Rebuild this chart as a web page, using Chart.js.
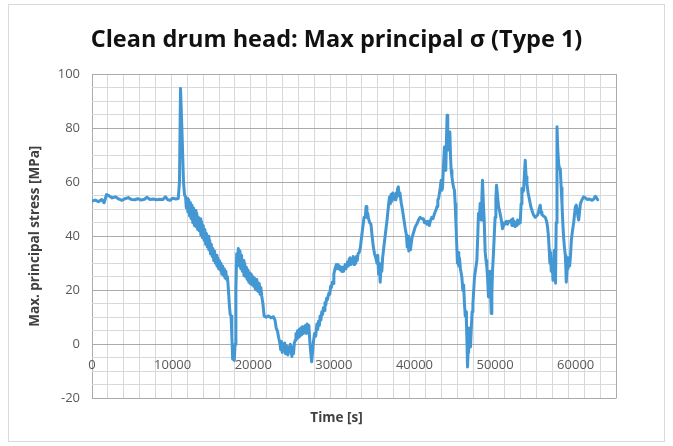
<!DOCTYPE html>
<html>
<head>
<meta charset="utf-8">
<script src="https://cdn.jsdelivr.net/npm/chart.js@4/dist/chart.umd.min.js"></script>
<style>
  html, body { margin: 0; padding: 0; background: #fff; }
  canvas { display: block; }
</style>
</head>
<body>
<canvas id="stress-chart" width="673" height="446"></canvas>
<script>
// time [s] and max principal stress [MPa]
const timeS = [
  0, 400, 800, 1200, 1500, 1800, 2100, 2500, 2900, 3300,
  3700, 4100, 4500, 4900, 5300, 5700, 6100, 6500, 6800, 7200,
  7600, 8000, 8400, 8800, 9100, 9400, 9700, 10000, 10400, 10700,
  10850, 10980, 11150, 11350, 11480, 11600, 11700, 11800, 11900, 12000,
  12100, 12200, 12300, 12400, 12500, 12600, 12700, 12800, 12900, 13000,
  13100, 13200, 13300, 13400, 13500, 13600, 13700, 13800, 13900, 14000,
  14100, 14200, 14300, 14400, 14500, 14600, 14700, 14800, 14900, 15000,
  15100, 15200, 15300, 15400, 15500, 15600, 15700, 15800, 15900, 16000,
  16100, 16200, 16300, 16400, 16500, 16600, 16700, 16800, 16900, 17050,
  17150, 17250, 17350, 17450, 17550, 17650, 17750, 17850, 17950, 18050,
  18150, 18250, 18350, 18450, 18550, 18650, 18750, 18850, 18950, 19050,
  19150, 19250, 19350, 19450, 19550, 19650, 19750, 19850, 19950, 20050,
  20150, 20250, 20350, 20450, 20550, 20650, 20750, 20850, 20950, 21050,
  21200, 21350, 21600, 21900, 22200, 22500, 22700, 22850, 23000, 23150,
  23300, 23400, 23500, 23600, 23700, 23800, 23900, 24000, 24100, 24200,
  24300, 24400, 24500, 24600, 24700, 24800, 24900, 25000, 25100, 25200,
  25300, 25400, 25500, 25600, 25700, 25800, 25900, 26000, 26100, 26200,
  26300, 26400, 26500, 26600, 26700, 26800, 26900, 27000, 27100, 27250,
  27350, 27450, 27600, 27750, 27900, 28000, 28100, 28200, 28300, 28400,
  28500, 28600, 28700, 28800, 28900, 29000, 29100, 29200, 29300, 29400,
  29500, 29600, 29700, 29800, 29900, 30000, 30150, 30300, 30400, 30500,
  30600, 30700, 30800, 30900, 31000, 31100, 31200, 31300, 31400, 31500,
  31600, 31700, 31800, 31900, 32000, 32100, 32200, 32300, 32400, 32500,
  32600, 32700, 32800, 32900, 33000, 33150, 33300, 33450, 33600, 33750,
  33900, 34000, 34100, 34200, 34300, 34450, 34600, 34750, 34900, 35050,
  35200, 35350, 35450, 35550, 35650, 35750, 35850, 35950, 36050, 36200,
  36400, 36600, 36800, 36900, 37000, 37100, 37200, 37300, 37400, 37500,
  37600, 37700, 37800, 37900, 38000, 38100, 38200, 38350, 38500, 38700,
  38850, 39000, 39100, 39200, 39300, 39400, 39500, 39700, 39900, 40100,
  40300, 40500, 40700, 40900, 41100, 41250, 41400, 41550, 41700, 41850,
  42000, 42150, 42300, 42500, 42700, 42800, 42900, 43000, 43100, 43200,
  43310, 43400, 43480, 43600, 43720, 43800, 43890, 43970, 44050, 44130,
  44220, 44300, 44390, 44470, 44550, 44650, 44760, 44860, 44960, 45050,
  45130, 45230, 45330, 45430, 45500, 45580, 45700, 45880, 46000, 46100,
  46200, 46300, 46400, 46450, 46520, 46580, 46650, 46720, 46790, 46870,
  46950, 47050, 47150, 47250, 47350, 47450, 47600, 47740, 47850, 47940,
  48050, 48150, 48280, 48360, 48440, 48550, 48650, 48770, 48880, 48980,
  49080, 49180, 49270, 49350, 49440, 49520, 49600, 49680, 49790, 49890,
  50000, 50100, 50180, 50300, 50430, 50580, 50720, 50820, 50920, 51050,
  51150, 51260, 51400, 51550, 51700, 51880, 52000, 52100, 52200, 52290,
  52400, 52500, 52600, 52700, 52800, 52900, 53000, 53120, 53230, 53330,
  53440, 53540, 53640, 53740, 53850, 53950, 54100, 54280, 54430, 54570,
  54750, 54980, 55150, 55300, 55390, 55500, 55600, 55700, 55810, 56000,
  56230, 56400, 56510, 56620, 56720, 56800, 56880, 56970, 57080, 57180,
  57260, 57350, 57420, 57500, 57580, 57680, 57780, 57880, 57990, 58090,
  58200, 58300, 58400, 58500, 58600, 58710, 58780, 58830, 58940, 59040,
  59150, 59250, 59360, 59460, 59600, 59750, 59850, 59960, 60070, 60170,
  60270, 60370, 60480, 60580, 60780, 60990, 61200, 61410, 61700, 62030,
  62250, 62440, 62600, 62730
];
const stressMPa = [
  53.0, 53.4, 52.8, 53.6, 52.4, 55.4, 55.0, 54.2, 54.6, 53.8,
  53.3, 53.9, 54.3, 53.6, 53.5, 53.9, 53.4, 53.7, 54.4, 53.6,
  53.8, 53.5, 53.7, 53.6, 54.6, 53.5, 53.3, 54.1, 53.8, 54.0,
  60.0, 94.7, 80.0, 60.0, 55.2, 54.8, 50.5, 54.0, 49.0, 53.5,
  47.5, 52.5, 46.5, 51.5, 45.0, 50.5, 44.0, 49.5, 43.5, 48.5,
  42.5, 47.0, 42.0, 46.5, 40.5, 45.5, 39.5, 44.0, 38.5, 42.5,
  37.0, 41.0, 36.0, 40.0, 35.0, 38.5, 33.5, 37.0, 32.5, 35.5,
  31.0, 34.5, 30.0, 33.0, 29.0, 32.0, 28.0, 31.0, 27.5, 30.0,
  26.0, 29.0, 25.5, 28.0, 24.5, 27.0, 24.0, 25.0, 21.2, 14.0,
  11.0, 10.5, 3.0, -5.5, -2.0, -6.0, 0.0, 20.0, 33.5, 31.0,
  35.5, 29.0, 34.5, 28.0, 33.0, 27.0, 31.0, 25.5, 30.0, 25.0,
  28.5, 24.0, 27.5, 23.0, 26.5, 22.5, 26.0, 22.0, 25.0, 21.5,
  24.5, 20.5, 24.0, 20.0, 23.0, 19.5, 22.5, 18.5, 21.0, 18.0,
  15.0, 10.5, 10.0, 10.5, 9.8, 10.2, 9.0, 6.0, 5.0, 2.5,
  0.5, -2.0, 1.0, -3.0, 0.0, -2.5, 0.5, -3.5, -0.5, -2.0,
  -4.0, -1.0, -3.0, 0.0, -2.5, -4.5, -1.0, -3.5, 0.5, 1.5,
  4.0, 2.0, 5.0, 2.5, 5.5, 3.0, 6.0, 3.5, 6.5, 4.0,
  6.5, 4.5, 7.0, 4.0, 7.5, 5.0, 7.0, 2.0, -2.0, -6.5,
  -3.0, 0.5, 4.0, 3.0, 7.5, 5.5, 8.5, 7.0, 10.5, 9.0,
  12.0, 11.0, 13.5, 12.5, 15.5, 14.5, 17.0, 16.5, 18.0, 19.0,
  18.5, 21.5, 21.0, 23.0, 22.5, 26.0, 28.0, 29.5, 28.0, 29.5,
  28.0, 29.0, 27.5, 28.5, 27.0, 28.5, 27.0, 28.0, 29.5, 28.0,
  29.0, 30.5, 29.0, 31.5, 32.0, 29.5, 31.5, 30.0, 32.5, 29.5,
  31.0, 30.0, 32.5, 31.0, 33.5, 34.0, 36.0, 40.0, 43.5, 47.0,
  47.0, 51.0, 47.0, 48.5, 46.5, 45.0, 44.5, 40.0, 36.0, 33.5,
  32.0, 30.0, 33.0, 26.0, 30.0, 23.0, 29.0, 27.0, 32.0, 36.0,
  41.0, 46.0, 52.0, 54.5, 52.0, 55.5, 53.0, 56.0, 54.0, 55.0,
  53.5, 56.0, 54.5, 57.5, 58.3, 55.0, 56.0, 52.5, 50.0, 46.0,
  43.0, 40.5, 36.0, 40.0, 34.5, 37.0, 35.0, 39.5, 41.5, 43.5,
  44.5, 46.0, 47.0, 46.5, 46.5, 45.0, 45.5, 44.5, 45.5, 44.0,
  46.0, 47.0, 46.5, 48.5, 50.0, 51.0, 53.5, 54.0, 56.0, 58.0,
  60.7, 57.0, 58.0, 66.0, 73.0, 67.0, 64.4, 76.0, 84.8, 78.0,
  71.9, 76.0, 78.6, 70.0, 64.4, 62.0, 59.5, 58.0, 57.0, 52.0,
  45.9, 38.0, 30.0, 34.0, 29.0, 32.0, 28.0, 24.9, 20.0, 22.0,
  15.1, 10.5, 12.0, 8.0, 0.0, -8.4, -3.0, 6.0, 5.2, 1.0,
  -1.0, 6.0, 12.0, 15.0, 20.0, 24.9, 28.0, 31.1, 40.0, 48.4,
  47.0, 52.1, 46.0, 54.0, 60.7, 52.0, 46.0, 34.2, 31.0, 28.6,
  24.0, 17.5, 22.0, 27.0, 20.0, 11.4, 18.0, 27.0, 33.0, 39.7,
  47.0, 54.0, 58.9, 55.0, 51.0, 49.0, 47.0, 45.0, 42.8, 44.0,
  45.0, 44.5, 45.5, 44.5, 45.5, 45.3, 46.0, 44.0, 46.5, 44.0,
  45.5, 43.5, 45.0, 44.0, 46.0, 44.5, 45.5, 45.0, 52.0, 57.7,
  56.5, 57.0, 63.0, 68.1, 62.0, 59.5, 56.0, 53.3, 51.0, 49.6,
  48.0, 47.0, 47.5, 48.0, 49.0, 50.5, 51.5, 49.0, 48.0, 47.5,
  47.0, 45.5, 43.4, 40.0, 34.8, 30.0, 34.0, 27.0, 31.0, 23.7,
  30.0, 34.8, 28.0, 22.6, 45.0, 80.5, 72.0, 66.9, 65.0, 65.0,
  58.0, 52.0, 45.0, 39.7, 36.0, 33.0, 28.0, 23.0, 28.0, 32.0,
  31.0, 29.0, 33.0, 38.5, 42.0, 45.0, 48.0, 50.9, 51.5, 50.0,
  47.5, 46.0, 49.0, 52.0, 53.5, 54.6, 54.2, 53.6, 53.8, 53.3,
  53.8, 54.8, 54.2, 53.5
];

const xLabels = [0, 10000, 20000, 30000, 40000, 50000, 60000];
const yLabels = [-20, 0, 20, 40, 60, 80, 100];

const majorGrid = '#a9abae';
const minorGrid = '#d6d8db';
const tickFont = { family: 'Open Sans', size: 13 };

// white background + light outer frame like the Excel chart area
const chartFrame = {
    id: 'chartFrame',
    beforeDraw(chart) {
        const c = chart.ctx;
        c.save();
        c.fillStyle = '#fff';
        c.fillRect(0, 0, chart.width, chart.height);
        c.strokeStyle = '#d9d9d9';
        c.lineWidth = 1;
        c.strokeRect(8.5, 4.5, 656, 437);
        c.restore();
    }
};

// Excel puts the time labels just under the y = 0 line, inside the plot
const xAxisLabels = {
    id: 'xAxisLabels',
    beforeDatasetsDraw(chart) {
        const c = chart.ctx;
        const { x, y } = chart.scales;
        const base = y.getPixelForValue(0) + 24.5;
        c.save();
        c.font = '13px "Open Sans"';
        c.fillStyle = '#595959';
        c.textAlign = 'center';
        c.textBaseline = 'alphabetic';
        xLabels.forEach((v) => c.fillText(String(v), x.getPixelForValue(v), base));
        c.restore();
    }
};

const ctx = document.getElementById('stress-chart');

new Chart(ctx, {
    type: 'line',
    data: {
        datasets: [{
            data: timeS.map((t, i) => ({ x: t, y: stressMPa[i] })),
            borderColor: '#4397d2',
            borderWidth: 3,
            borderJoinStyle: 'round',
            borderCapStyle: 'round',
            pointRadius: 0,
            tension: 0,
            fill: false
        }]
    },
    options: {
        responsive: false,
        animation: false,
        events: [],
        layout: { padding: 0 },
        plugins: {
            legend: { display: false },
            tooltip: { enabled: false },
            title: {
                display: true,
                text: 'Clean drum head: Max principal σ (Type 1)',
                color: '#111',
                font: { family: 'Open Sans', size: 23.5, weight: 'bold' },
                padding: { top: 26, bottom: 20 }
            },
            subtitle: {
                display: true,
                position: 'bottom',
                text: 'Time [s]',
                color: '#404040',
                font: { family: 'Open Sans', size: 13.5, weight: 'bold' },
                padding: { top: 11.5, bottom: 20 }
            }
        },
        scales: {
            x: {
                type: 'linear',
                position: { y: 0 },
                min: 0,
                max: 65000,
                afterFit: (s) => { s.height = 0; },
                afterBuildTicks: (s) => { s.ticks.push({ value: 65000 }); },
                ticks: {
                    display: false,
                    stepSize: 2000,
                    includeBounds: false,
                    autoSkip: false,
                    maxRotation: 0
                },
                grid: {
                    drawTicks: false,
                    color: (c) => (c.tick && (c.tick.value % 10000 === 0 || c.tick.value === 65000)) ? majorGrid : minorGrid
                },
                border: { display: false }
            },
            y: {
                min: -20,
                max: 100,
                afterFit: (s) => { s.width = 92; },
                ticks: {
                    stepSize: 5,
                    autoSkip: false,
                    padding: 12,
                    color: '#595959',
                    font: tickFont,
                    callback: (v) => yLabels.includes(v) ? String(v) : ''
                },
                grid: {
                    drawTicks: false,
                    color: (c) => (c.tick && c.tick.value % 20 === 0) ? majorGrid : minorGrid
                },
                border: { display: false },
                title: {
                    display: true,
                    text: 'Max. principal stress [MPa]',
                    color: '#404040',
                    font: { family: 'Open Sans', size: 13.5, weight: 'bold' },
                    padding: { top: 27, bottom: 0 }
                }
            },
            // empty right-hand box so the plot stops where Excel's does
            yRight: {
                position: 'right',
                display: true,
                afterFit: (s) => { s.width = 57; },
                ticks: { display: false },
                grid: { display: false, drawTicks: false },
                border: { display: false }
            }
        }
    },
    plugins: [chartFrame, xAxisLabels]
});
</script>
</body>
</html>
